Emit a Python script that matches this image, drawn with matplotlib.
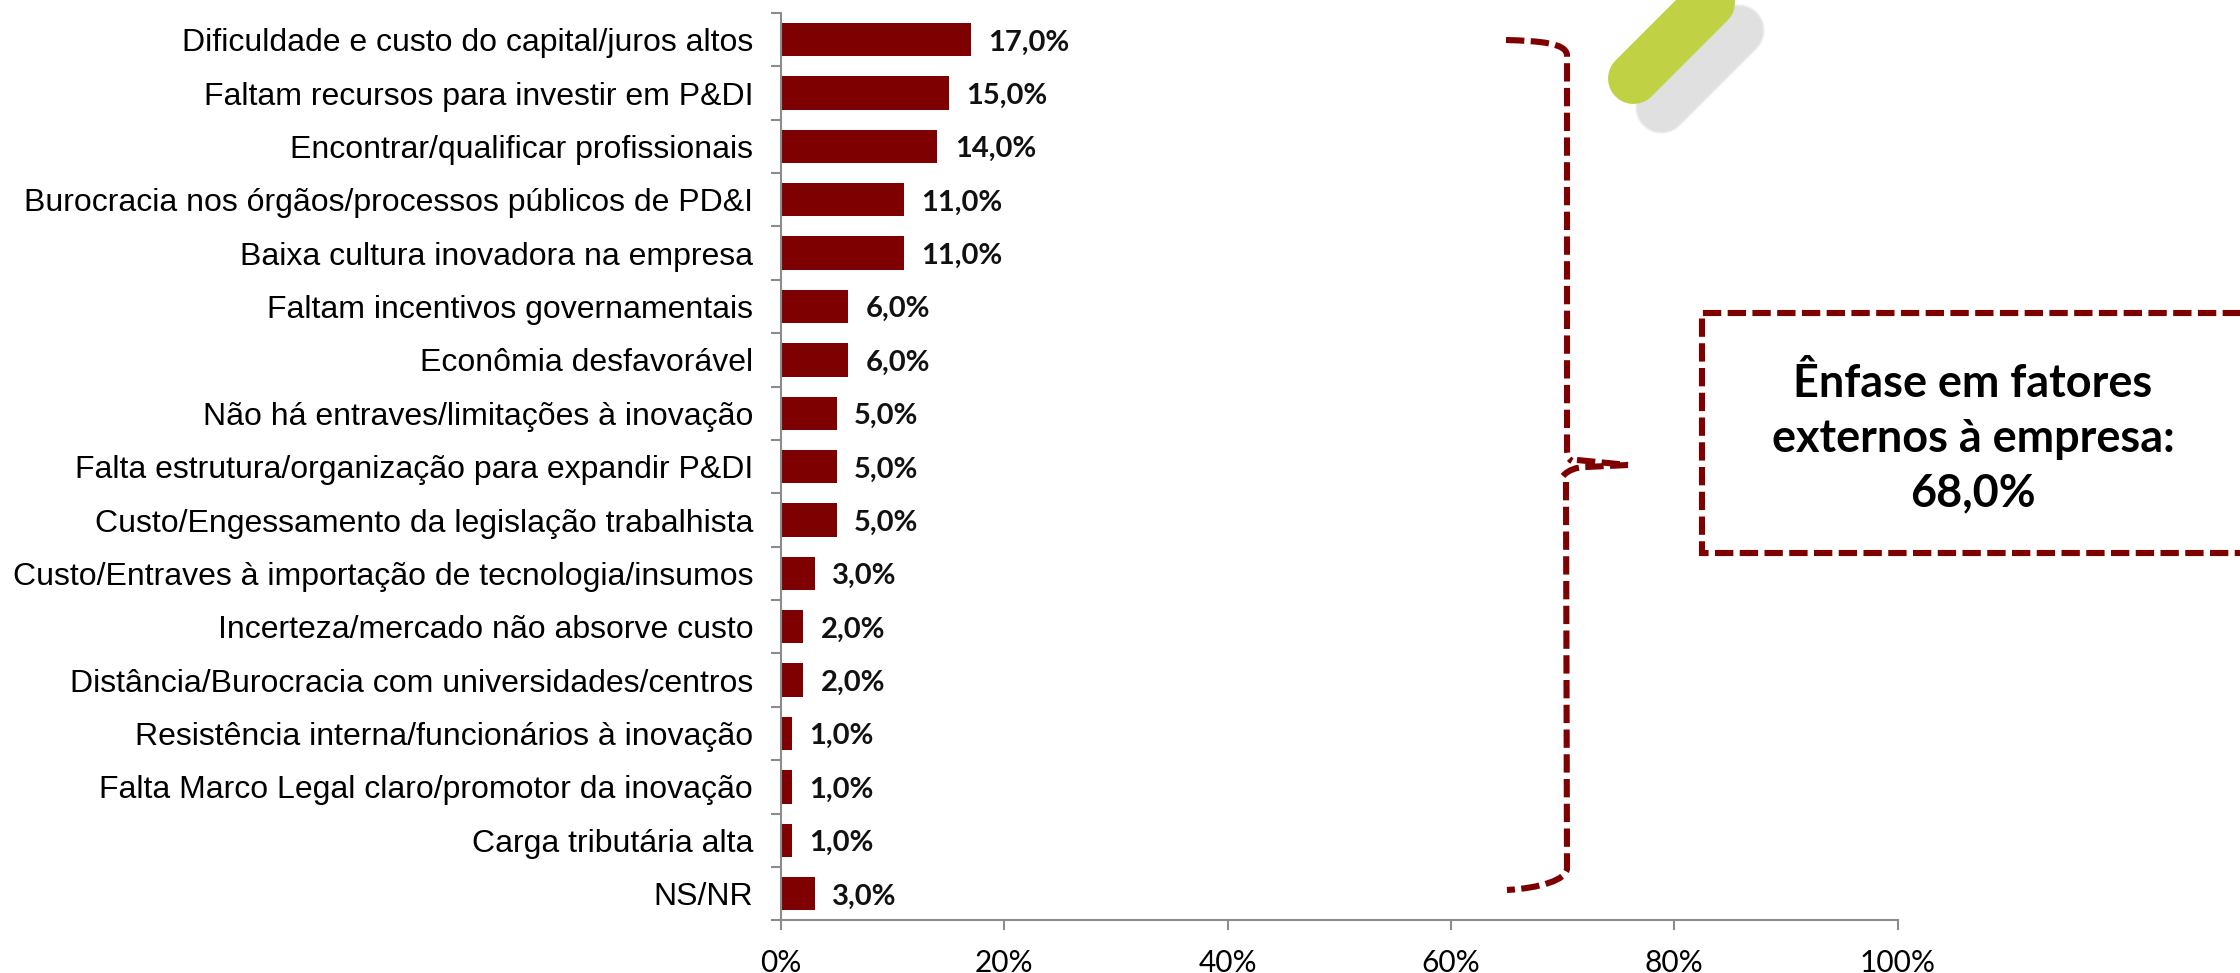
import matplotlib
matplotlib.use("Agg")
import matplotlib.pyplot as plt
from matplotlib.path import Path
from matplotlib.patches import PathPatch

# Data
categories = [
    "Dificuldade e custo do capital/juros altos",
    "Faltam recursos para investir em P&DI",
    "Encontrar/qualificar profissionais",
    "Burocracia nos órgãos/processos públicos de PD&I",
    "Baixa cultura inovadora na empresa",
    "Faltam incentivos governamentais",
    "Econômia desfavorável",
    "Não há entraves/limitações à inovação",
    "Falta estrutura/organização para expandir P&DI",
    "Custo/Engessamento da legislação trabalhista",
    "Custo/Entraves à importação de tecnologia/insumos",
    "Incerteza/mercado não absorve custo",
    "Distância/Burocracia com universidades/centros",
    "Resistência interna/funcionários à inovação",
    "Falta Marco Legal claro/promotor da inovação",
    "Carga tributária alta",
    "NS/NR",
]
values = [17, 15, 14, 11, 11, 6, 6, 5, 5, 5, 3, 2, 2, 1, 1, 1, 3]
x_ticks = [0, 20, 40, 60, 80, 100]
note_lines = "Ênfase em fatores\nexternos à empresa:\n68,0%"

RED = "#7f0000"
GREY = "#8c8c8c"
W, H = 2240, 973

fig = plt.figure(figsize=(W / 100, H / 100), dpi=100, facecolor="white")

# Main bar chart
ax = fig.add_axes([781 / W, 1 - 920.3 / H, (1897.7 - 781) / W, (920.3 - 13) / H])
positions = list(range(len(categories)))
bars = ax.barh(positions, values, height=0.625, color=RED)
ax.set_xlim(0, 100)
ax.set_ylim(len(categories) - 0.5, -0.5)

for s in ["top", "right"]:
    ax.spines[s].set_visible(False)
for s in ["left", "bottom"]:
    ax.spines[s].set_color(GREY)
    ax.spines[s].set_linewidth(1.5)

ax.set_yticks(positions)
ax.set_yticklabels(categories, family="Liberation Sans", fontsize=23, color="black")
ax.set_yticks([p - 0.5 for p in positions] + [len(categories) - 0.5], minor=True)
ax.tick_params(axis="y", which="major", length=0, pad=20)
ax.tick_params(axis="y", which="minor", length=7.5, width=1.5, color=GREY)

ax.set_xticks(x_ticks)
ax.set_xticklabels([f"{t}%" for t in x_ticks], family="Lato", fontsize=21.5, color="black")
ax.tick_params(axis="x", length=7.5, width=1.5, color=GREY, pad=13)

labels = [f"{v:.1f}%".replace(".", ",") for v in values]
texts = ax.bar_label(bars, labels=labels, padding=12.5, family="Lato", fontweight="bold", fontsize=21, color="#111111")
for t in texts:
    t.xyann = (t.xyann[0], -2)  # sit a little lower, as in the original

# Overlay in pixel coordinates for the brace, note box and logo
ov = fig.add_axes([0, 0, 1, 1], facecolor="none")
ov.set_xlim(0, W)
ov.set_ylim(H, 0)
ov.axis("off")

# logo pill with its soft shadow
for lw, a in [(38, 0.35), (36.5, 0.6), (35, 1)]:
    ov.plot([1661.5, 1738.5], [107.5, 30.5], color="#e0e0e0", lw=lw, alpha=a, solid_capstyle="round")
ov.plot([1633.5, 1709.5], [78.5, 2.5], color="#c0d144", lw=36.7, solid_capstyle="round")


def dashed(verts, codes):
    ov.add_patch(PathPatch(Path(verts, codes), fill=False, edgecolor=RED, lw=4.4,
                           linestyle=(0, (3, 1.05)), capstyle="butt"))


M, L, C = Path.MOVETO, Path.LINETO, Path.CURVE4

# brace
dashed([(1506, 40), (1540, 41), (1566, 43), (1567, 55), (1567, 448), (1567, 456), (1568, 459), (1572, 461)],
       [M, C, C, C, L, C, C, C])
dashed([(1577, 460), (1628, 465)], [M, L])
dashed([(1563, 476), (1568, 470), (1577, 467), (1586, 467), (1628, 465)], [M, C, C, C, L])
dashed([(1566, 482), (1567, 868), (1567, 880), (1540, 888), (1507, 890)], [M, L, C, C, C])

# note box, runs off the right edge
dashed([(2260, 313), (1702, 313), (1702, 553), (2260, 553)], [M, L, L, L])
ov.text(1973, 439, note_lines, ha="center", va="center", family="Lato", fontweight="bold",
        fontsize=32.4, color="black", linespacing=1.37)

fig.savefig("out.png", dpi=100)
